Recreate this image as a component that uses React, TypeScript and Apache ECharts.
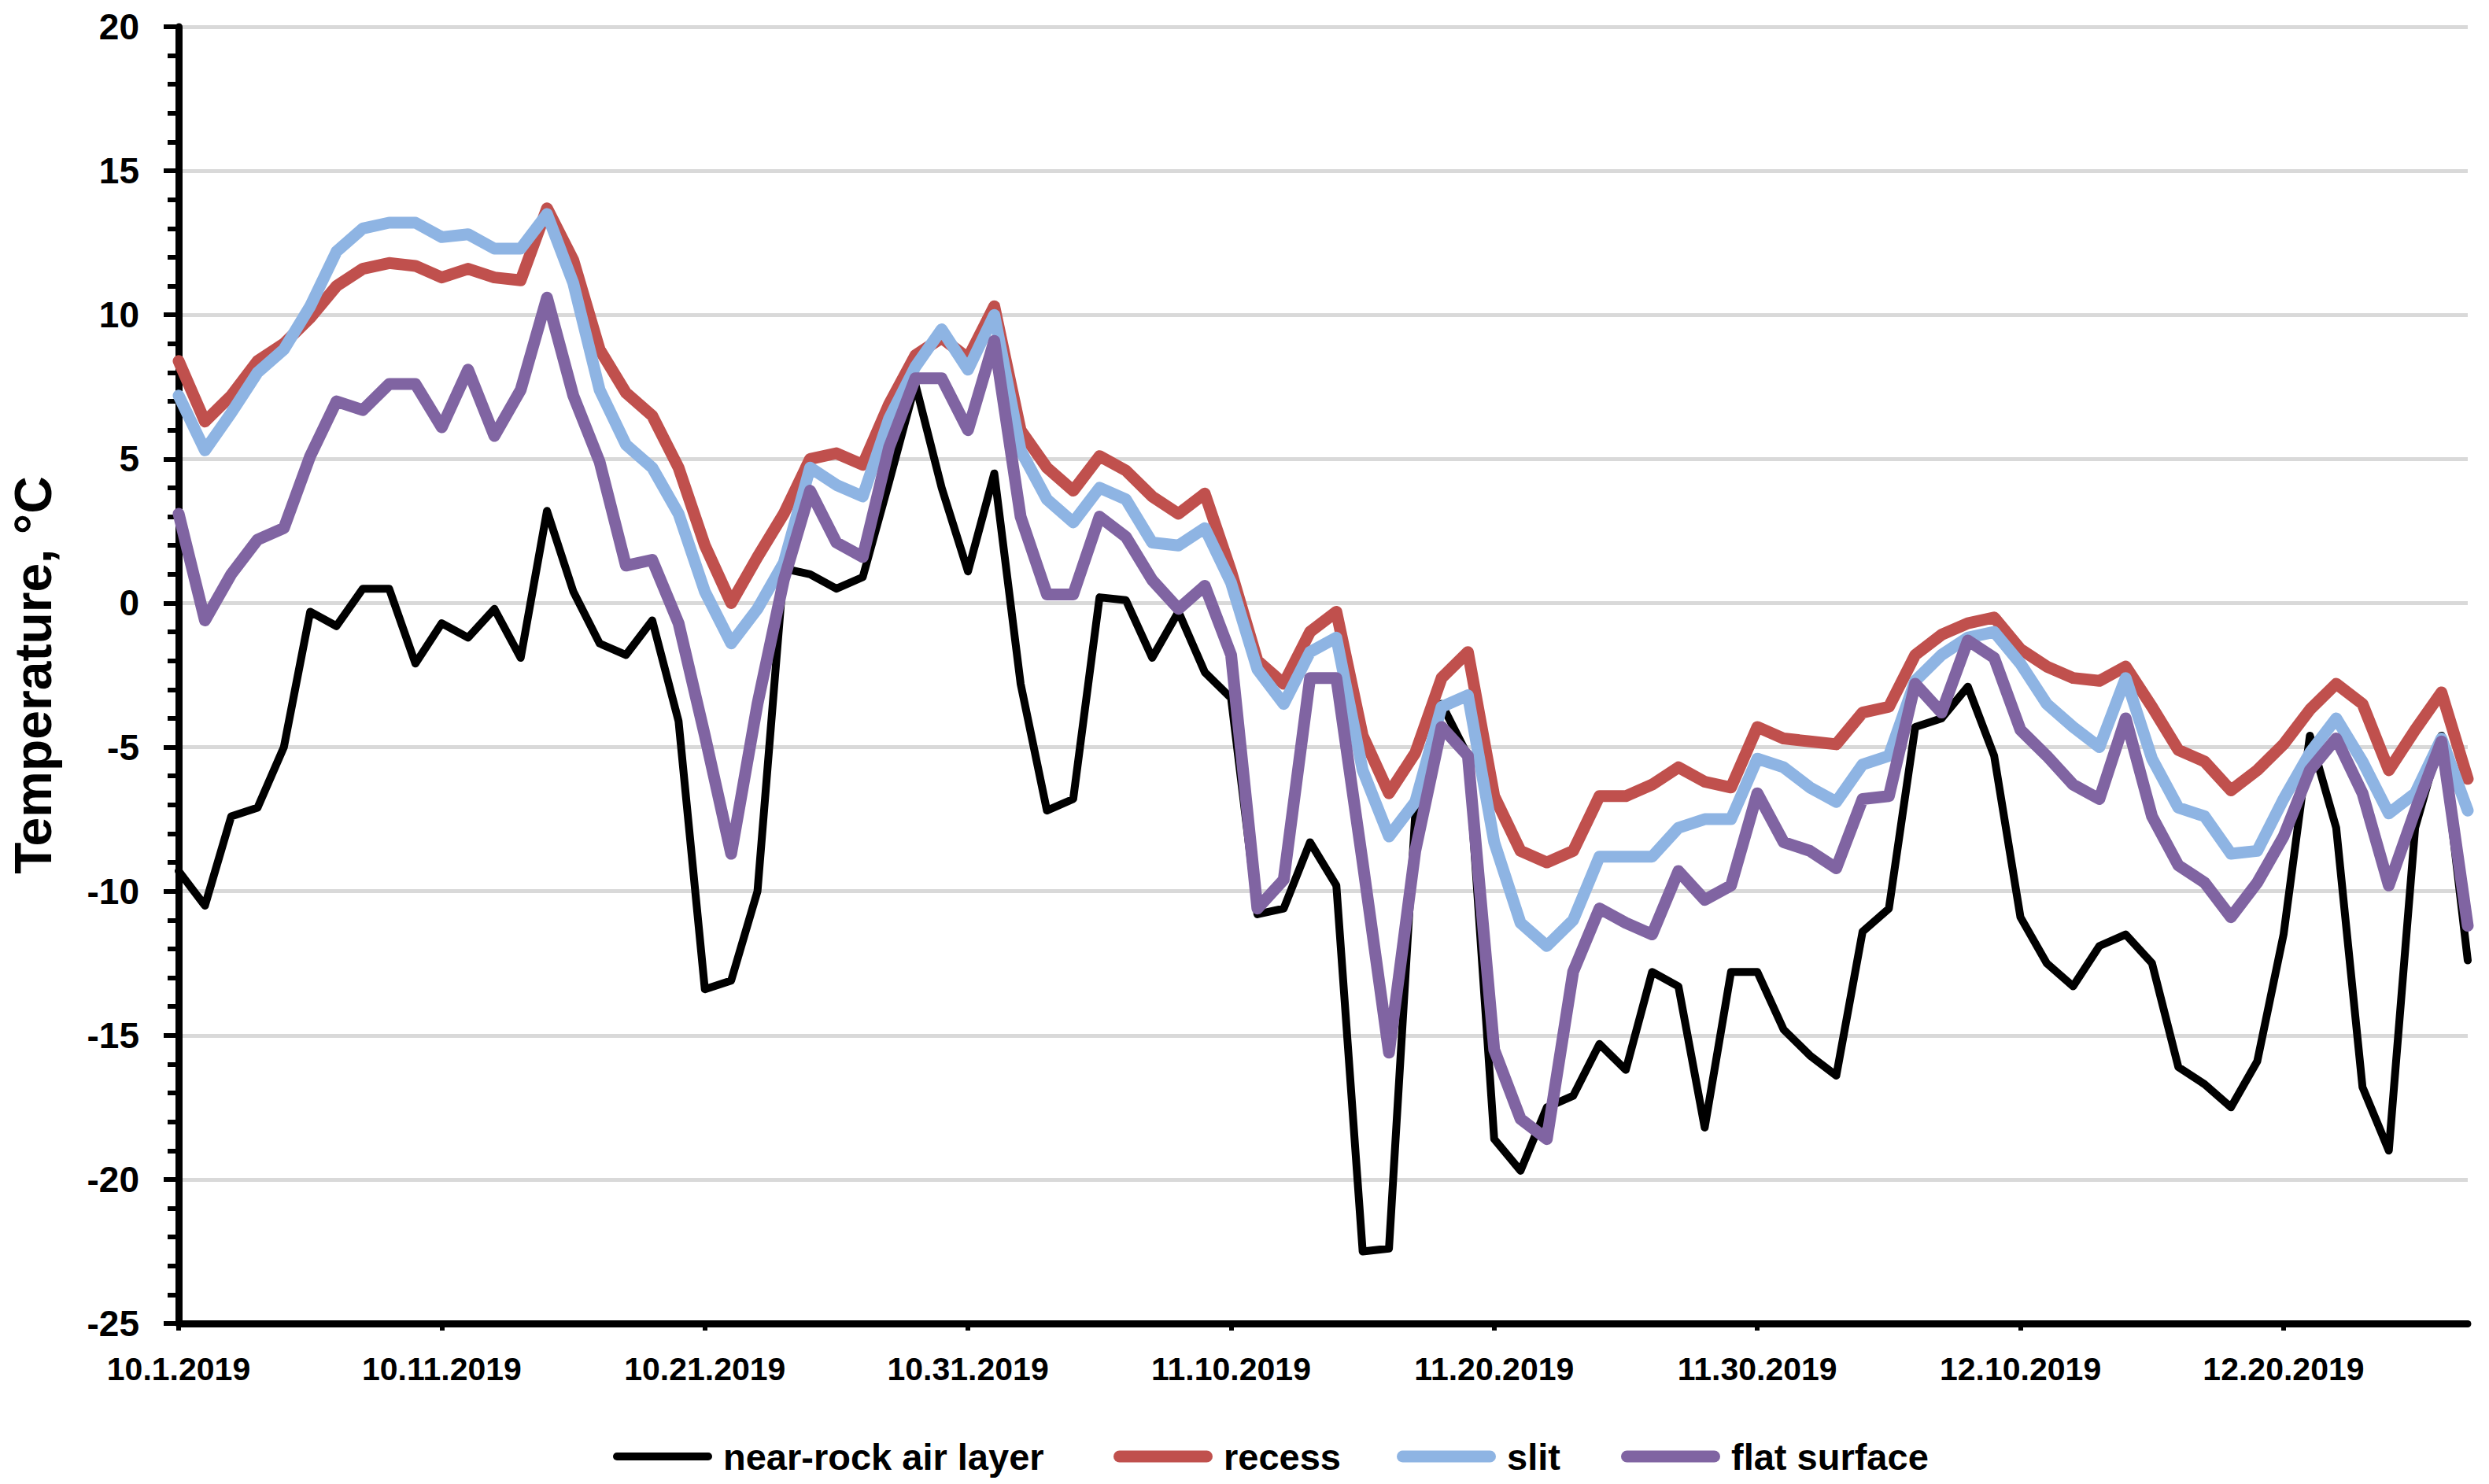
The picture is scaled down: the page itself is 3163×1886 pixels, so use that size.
import React, { useEffect, useRef } from "react";
import * as echarts from "echarts";

// 88 daily values, 10.1.2019 .. 12.27.2019
const START_YEAR = 2019;
const START_MONTH = 10;
const DAY_COUNT = 88;

const nearRock = [
  -9.3, -10.5, -7.4, -7.1, -5.0, -0.3, -0.8, 0.5, 0.5, -2.1,
  -0.7, -1.2, -0.2, -1.9, 3.2, 0.4, -1.4, -1.8, -0.6, -4.1,
  -13.4, -13.1, -10.0, 1.2, 1.0, 0.5, 0.9, 4.2, 7.6, 4.0,
  1.1, 4.5, -2.8, -7.2, -6.8, 0.2, 0.1, -1.9, -0.3, -2.4,
  -3.3, -10.8, -10.6, -8.3, -9.8, -22.5, -22.4, -7.3, -3.5, -5.3,
  -18.6, -19.7, -17.5, -17.1, -15.3, -16.2, -12.8, -13.3, -18.2, -12.8,
  -12.8, -14.8, -15.7, -16.4, -11.4, -10.6, -4.3, -4.0, -2.9, -5.3,
  -10.9, -12.5, -13.3, -11.9, -11.5, -12.5, -16.1, -16.7, -17.5, -15.9,
  -11.5, -4.6, -7.8, -16.8, -19.0, -7.8, -4.6, -12.4,
];

const recess = [
  8.4, 6.3, 7.2, 8.4, 9.0, 9.9, 11.0, 11.6, 11.8, 11.7,
  11.3, 11.6, 11.3, 11.2, 13.7, 11.9, 8.8, 7.3, 6.5, 4.7,
  2.0, 0.0, 1.6, 3.1, 5.0, 5.2, 4.8, 6.9, 8.6, 9.2,
  8.5, 10.3, 6.0, 4.7, 3.9, 5.1, 4.6, 3.7, 3.1, 3.8,
  1.1, -2.0, -2.8, -1.0, -0.3, -4.6, -6.6, -5.2, -2.6, -1.7,
  -6.7, -8.6, -9.0, -8.6, -6.7, -6.7, -6.3, -5.7, -6.2, -6.4,
  -4.3, -4.7, -4.8, -4.9, -3.8, -3.6, -1.8, -1.1, -0.7, -0.5,
  -1.6, -2.2, -2.6, -2.7, -2.2, -3.6, -5.1, -5.5, -6.5, -5.8,
  -4.9, -3.7, -2.8, -3.5, -5.8, -4.4, -3.1, -6.1,
];

const slit = [
  7.2, 5.3, 6.6, 8.0, 8.8, 10.3, 12.2, 13.0, 13.2, 13.2,
  12.7, 12.8, 12.3, 12.3, 13.5, 11.1, 7.4, 5.5, 4.7, 3.1,
  0.4, -1.4, -0.2, 1.4, 4.7, 4.1, 3.7, 6.4, 8.2, 9.5,
  8.1, 10.0, 5.3, 3.6, 2.8, 4.0, 3.6, 2.1, 2.0, 2.6,
  0.7, -2.3, -3.5, -1.7, -1.2, -5.8, -8.1, -6.9, -3.6, -3.2,
  -8.3, -11.1, -11.9, -11.0, -8.8, -8.8, -8.8, -7.8, -7.5, -7.5,
  -5.4, -5.7, -6.4, -6.9, -5.6, -5.3, -2.7, -1.8, -1.2, -1.0,
  -2.1, -3.5, -4.3, -5.0, -2.6, -5.4, -7.1, -7.4, -8.7, -8.6,
  -6.8, -5.2, -4.0, -5.5, -7.3, -6.6, -4.7, -7.2,
];

const flatSurface = [
  3.1, -0.6, 1.0, 2.2, 2.6, 5.1, 7.0, 6.7, 7.6, 7.6,
  6.1, 8.1, 5.8, 7.4, 10.6, 7.2, 4.9, 1.3, 1.5, -0.7,
  -4.6, -8.7, -3.5, 0.8, 3.9, 2.1, 1.6, 5.4, 7.8, 7.8,
  6.0, 9.1, 3.0, 0.3, 0.3, 3.0, 2.3, 0.8, -0.2, 0.6,
  -1.8, -10.6, -9.6, -2.6, -2.6, -9.0, -15.6, -8.6, -4.3, -5.3,
  -15.5, -17.9, -18.6, -12.8, -10.6, -11.1, -11.5, -9.3, -10.3, -9.8,
  -6.6, -8.3, -8.6, -9.2, -6.8, -6.7, -2.8, -3.8, -1.3, -1.9,
  -4.4, -5.3, -6.3, -6.8, -4.0, -7.4, -9.1, -9.7, -10.9, -9.7,
  -8.1, -5.8, -4.7, -6.6, -9.8, -7.2, -4.8, -11.2,
];

const seriesNames = ["near-rock air layer", "recess", "slit", "flat surface"];
const yTicks = { min: -25, max: 20, interval: 5 };

const categories: string[] = [];
for (let i = 0; i < DAY_COUNT; i++) {
  const d = new Date(START_YEAR, START_MONTH - 1, 1 + i);
  categories.push(`${d.getMonth() + 1}.${d.getDate()}.${d.getFullYear()}`);
}

const FONT = "'Liberation Sans', Arial, sans-serif";
const COLORS = ["#000000", "#C0504D", "#8EB4E3", "#8064A2"];
const WIDTHS = [10, 15, 15, 15];

const pill = (h: number) =>
  `path://M${h / 2},0H${126 - h / 2}A${h / 2},${h / 2} 0 0 1 ${126 - h / 2},${h}H${h / 2}A${h / 2},${h / 2} 0 0 1 ${h / 2},0Z`;

export default function App() {
  const ref = useRef<HTMLDivElement>(null);
  useEffect(() => {
    if (!ref.current) return;
    const chart = echarts.init(ref.current, undefined, { renderer: "svg" });
    const values = [nearRock, recess, slit, flatSurface];
    const legendLefts = [779, 1415, 1775, 2060];
    const option: any = {
      animation: false,
      backgroundColor: "#ffffff",
      grid: { left: 227, right: 27, top: 34, bottom: 204, containLabel: false },
      legend: seriesNames.map((n, k) => ({
        data: [{ name: n, icon: pill(k === 0 ? 10 : 15) }],
        left: legendLefts[k],
        top: 1826,
        padding: 0,
        itemWidth: 126,
        itemHeight: k === 0 ? 10 : 15,
        selectedMode: false,
        textStyle: {
          fontFamily: FONT,
          fontWeight: "bold",
          fontSize: 47,
          lineHeight: 50,
          color: "#000",
          padding: [0, 0, 0, 9],
        },
      })),
      xAxis: {
        type: "category",
        data: categories,
        boundaryGap: false,
        axisLine: { onZero: false, lineStyle: { color: "#000", width: 9 } },
        axisTick: { show: true, interval: 9, length: 9, lineStyle: { color: "#000", width: 6 } },
        axisLabel: {
          interval: 9,
          margin: 37,
          fontFamily: FONT,
          fontWeight: "bold",
          fontSize: 41,
          color: "#000",
        },
        splitLine: { show: false },
      },
      yAxis: {
        type: "value",
        min: yTicks.min,
        max: yTicks.max,
        interval: yTicks.interval,
        name: "Temperature, \u00B0C",
        nameLocation: "middle",
        nameRotate: 90,
        nameGap: 152,
        nameTextStyle: { fontFamily: FONT, fontWeight: "bold", fontSize: 66, color: "#000" },
        axisLine: { show: true, lineStyle: { color: "#000", width: 9 } },
        axisTick: { show: true, length: 19, lineStyle: { color: "#000", width: 6 } },
        minorTick: { show: true, splitNumber: 5, length: 14, lineStyle: { color: "#000", width: 6 } },
        axisLabel: {
          margin: 50,
          fontFamily: FONT,
          fontWeight: "bold",
          fontSize: 46,
          color: "#000",
        },
        splitLine: { show: true, lineStyle: { color: "#D9D9D9", width: 5 } },
      },
      series: seriesNames.map((n, k) => ({
        name: n,
        type: "line",
        data: values[k],
        symbol: "none",
        showSymbol: false,
        smooth: false,
        color: COLORS[k],
        lineStyle: { color: COLORS[k], width: WIDTHS[k], cap: "round", join: "round" },
      })),
    };
    chart.setOption(option);
    return () => chart.dispose();
  }, []);
  return (
    <div
      ref={ref}
      style={{ position: "fixed", left: 0, top: 0, width: 3163, height: 1886, background: "#fff" }}
    />
  );
}
